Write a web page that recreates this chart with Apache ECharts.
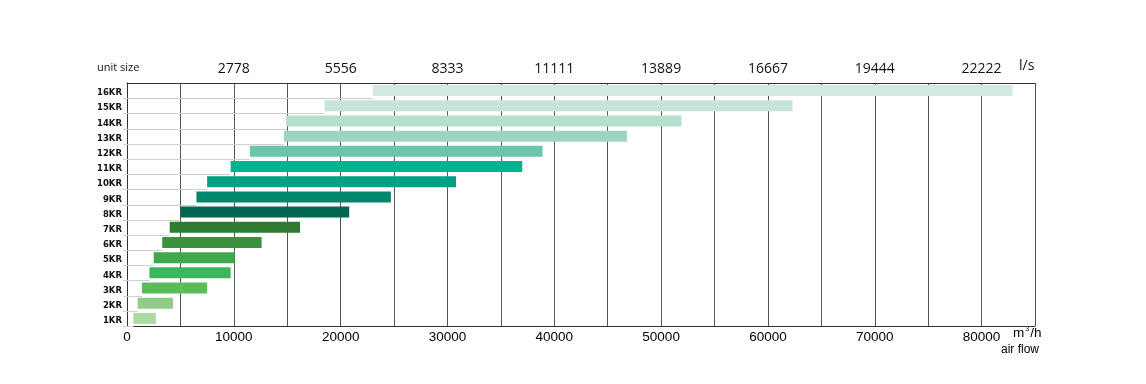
<!DOCTYPE html>
<html>
<head>
<meta charset="utf-8">
<script src="https://cdn.jsdelivr.net/npm/echarts@6/dist/echarts.min.js"></script>
<style>html,body{margin:0;padding:0;background:#fff;}#c{width:1146px;height:384px;}</style>
</head>
<body>
<div id="c"></div>
<script>
// ---- data ----
const categories = ['1KR','2KR','3KR','4KR','5KR','6KR','7KR','8KR','9KR','10KR','11KR','12KR','13KR','14KR','15KR','16KR'];
const flowStart = [600, 1000, 1400, 2100, 2500, 3300, 4000, 5000, 6500, 7500, 9700, 11500, 14700, 14900, 18500, 23000];
const flowEnd   = [2700, 4300, 7500, 9700, 10100, 12600, 16200, 20800, 24700, 30800, 37000, 38900, 46800, 51900, 62300, 82900];
const flowTicks = [0, 10000, 20000, 30000, 40000, 50000, 60000, 70000, 80000];
const flowTickLabels = ['0','10000','20000','30000','40000','50000','60000','70000','80000'];
const lsTickLabels = ['','2778','5556','8333','11111','13889','16667','19444','22222'];

// ---- styles ----
const barColors = ['#acdaa2','#8fcd87','#5abd5a','#3bb65b','#3ea84b','#3a913d','#2f7b31','#006651',
                   '#00866a','#00a283','#00b492','#6cc5ab','#9cd5bf','#b3dfcb','#c6e5d8','#d3e8df'];

function tickLabel(labels){
  return function(v){ const i = flowTicks.indexOf(v); return i >= 0 ? labels[i] : ''; };
}

const chart = echarts.init(document.getElementById('c'), null, {renderer:'canvas'});
chart.setOption({
  animation: false,
  grid: {left: 127, right: 111, top: 83, height: 243, containLabel: false},
  xAxis: [
    {
      type: 'value', position: 'bottom', min: 0, max: 85000, interval: 5000,
      axisLine: {show: true, lineStyle: {color: '#333', width: 1}},
      axisTick: {show: false},
      splitLine: {show: true, lineStyle: {color: '#555', width: 1}},
      axisLabel: {formatter: tickLabel(flowTickLabels), color: '#000', fontFamily: 'Liberation Sans', fontSize: 13.5, margin: 4, showMaxLabel: false}
    },
    {
      type: 'value', position: 'top', min: 0, max: 85000, interval: 5000,
      axisLine: {show: true, lineStyle: {color: '#333', width: 1}},
      axisTick: {show: false},
      splitLine: {show: false},
      axisLabel: {formatter: tickLabel(lsTickLabels), color: '#111', fontFamily: 'Open Sans', fontSize: 14, margin: 7, showMaxLabel: false}
    }
  ],
  yAxis: {
    type: 'category', data: categories,
    axisLine: {show: true, lineStyle: {color: '#333', width: 1}},
    axisTick: {show: false},
    splitLine: {show: false},
    axisLabel: {color: '#111', fontFamily: 'DejaVu Sans', fontWeight: 'bold', fontSize: 8.5, margin: 5, verticalAlign: 'top', lineHeight: 5}
  },
  series: [
    {
      type: 'custom', xAxisIndex: 0, yAxisIndex: 0, z: 1,
      encode: {x: 1, y: 0},
      data: categories.map((c, i) => [i, flowStart[i]]),
      renderItem: function(params, api){
        const cat = api.value(0), start = api.value(1);
        const p0 = api.coord([0, cat]);
        const p1 = api.coord([start, cat]);
        const h = api.size([0, 1])[1];
        const y = Math.round(p0[1] + h / 2) + 0.5;
        return {type: 'line', shape: {x1: p0[0] - 4, y1: y, x2: p1[0], y2: y}, style: {stroke: '#cfcfcf', lineWidth: 1}};
      }
    },
    {
      type: 'bar', stack: 'r', xAxisIndex: 0, barWidth: 11, z: 2,
      itemStyle: {color: 'rgba(0,0,0,0)'},
      data: flowStart, silent: true
    },
    {
      type: 'bar', stack: 'r', xAxisIndex: 0, barWidth: 11, z: 2,
      data: flowEnd.map((e, i) => ({value: e - flowStart[i], itemStyle: {color: barColors[i]}}))
    }
  ],
  graphic: [
    {type: 'text', left: 97, top: 62, style: {text: 'unit size', font: '11px "Open Sans"', fill: '#111'}},
    {type: 'text', left: 1019, top: 59, style: {text: 'l/s', font: '14px "Open Sans"', fill: '#111'}},
    {type: 'text', left: 1013, top: 326, style: {
      text: 'm{s|3}/h', font: '13.5px "Liberation Sans"', fill: '#000',
      rich: {s: {fontSize: 7, fontFamily: 'Liberation Sans', verticalAlign: 'top', padding: [0,1,6,1], fill: '#000'}}
    }},
    {type: 'text', left: 1001, top: 344, style: {text: 'air flow', font: '12px "Liberation Sans"', fill: '#000'}}
  ]
});
</script>
</body>
</html>
